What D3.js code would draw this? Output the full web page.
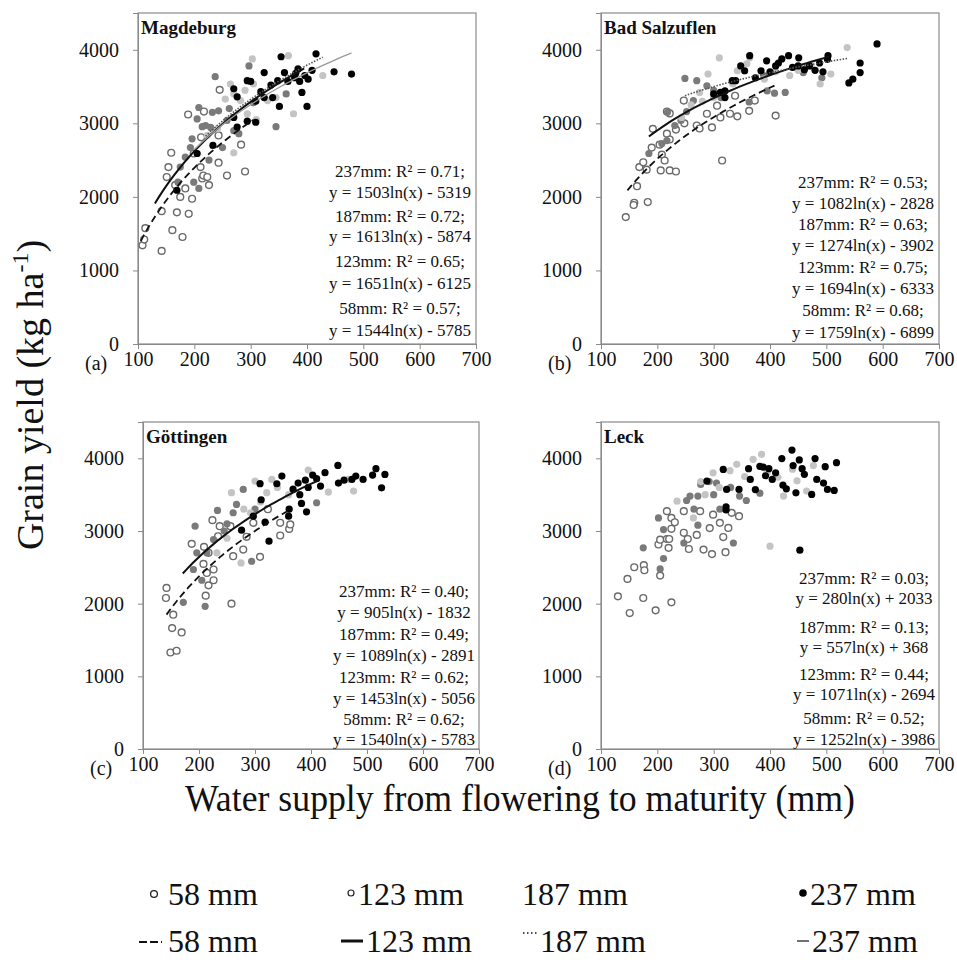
<!DOCTYPE html>
<html>
<head>
<meta charset="utf-8">
<script src="https://cdn.jsdelivr.net/npm/d3@7/dist/d3.min.js"></script>
<style>
    body { margin: 0; background: #fff; }
    svg text { font-family: "Liberation Serif", "Times New Roman", serif; fill: #111; }
</style>
</head>
<body>
<div id="chart"></div>
<script>
// ---- data (water supply mm, grain yield kg/ha) ----
const panelNames = ["Magdeburg", "Bad Salzuflen", "Göttingen", "Leck"];
const panelTags = ["(a)", "(b)", "(c)", "(d)"];
const seriesKeys = ["58", "123", "187", "237"];
const xTicks = [100, 200, 300, 400, 500, 600, 700];
const yTicks = [0, 1000, 2000, 3000, 4000];

const mag58 = [[108,1342],[111,1420],[113,1575],[142,1266],[142,1806],[161,1548],[169,1790],[179,1455],[190,1770],[159,2600],[154,2405],[151,2270],[166,2160],[175,2000],[184,2115],[196,1975],[211,2405],[214,2250],[226,2160],[216,2290],[223,2270],[243,2465],[258,2290],[283,2710],[290,2345],[189,3120],[212,2810],[217,3160],[245,3455],[243,2835],[199,2590]];
const mag123 = [[237,3635],[208,3215],[205,3060],[214,2955],[196,2790],[193,2670],[184,2540],[175,2405],[171,2200],[199,2200],[208,2115],[232,3150],[243,3170],[258,3040],[250,2670],[270,2900],[297,3780],[279,2860],[345,2955],[363,3400],[229,2945],[220,2970],[305,3280],[226,2500],[262,3200]];
const mag187 = [[303,3875],[367,3920],[428,3650],[376,3130],[264,3535],[270,3400],[255,3330],[282,3310],[241,2925],[305,3535],[294,3130],[310,3050],[330,3310],[345,3350],[223,2835],[270,2600],[290,3450],[320,3400]];
const mag237 = [[354,3905],[416,3945],[448,3700],[479,3670],[400,3230],[391,3420],[351,3230],[324,3350],[309,3015],[294,3580],[300,3570],[324,3690],[348,3580],[360,3690],[384,3740],[378,3620],[396,3650],[409,3720],[270,3470],[276,3360],[270,3080],[276,2950],[294,3030],[309,3300],[318,3430],[336,3520],[339,3350],[233,2700],[205,2590],[169,2090],[366,3570],[387,3570],[402,3600],[380,3680]];

const bad58 = [[144,1725],[159,1920],[158,1890],[183,1930],[164,2145],[168,2405],[175,2470],[181,2370],[192,2925],[190,2670],[204,2710],[208,2575],[213,2495],[206,2360],[222,2360],[233,2345],[217,2860],[222,2780],[233,2915],[217,3160],[222,3135],[247,3310],[248,3000],[270,2970],[275,2930],[288,3130],[297,2945],[306,3240],[312,3080],[315,2495],[329,3130],[342,3095],[338,3375],[363,3170],[373,3310],[410,3105]];
const bad123 = [[249,3610],[270,3580],[185,2590],[218,3150],[288,3510],[300,3450],[313,3350],[363,3290],[395,3440],[408,3410],[427,3420],[492,3620],[264,3310],[252,3160],[242,3040],[231,2970],[217,2765],[389,3650],[459,3690],[208,2725]];
const bad187 = [[310,3890],[290,3670],[537,4030],[489,3535],[508,3670],[473,3780],[435,3650],[359,3810],[342,3715],[275,3420],[243,3080],[334,3535],[364,3890],[280,3300],[300,3350],[260,3250],[410,3700],[450,3720],[390,3600]];
const bad237 = [[590,4080],[560,3820],[560,3690],[547,3600],[540,3550],[503,3920],[502,3870],[488,3820],[470,3780],[461,3730],[450,3780],[451,3890],[433,3920],[421,3875],[410,3780],[394,3850],[384,3715],[374,3620],[364,3920],[355,3715],[348,3780],[339,3580],[320,3440],[312,3420],[320,3350],[333,3580],[494,3700],[300,3400],[400,3700],[415,3820],[480,3720],[440,3760]];

const got58 = [[142,2216],[141,2078],[154,1848],[152,1664],[169,1604],[149,1328],[160,1352],[187,2823],[209,2782],[208,2547],[217,2700],[214,2423],[217,2252],[212,2110],[226,2322],[224,3149],[237,3066],[234,2928],[226,2470],[258,2000],[261,2653],[279,2745],[285,2920],[297,3113],[309,2644],[323,3300],[345,2938],[345,3113],[361,3029],[363,3090],[256,3066]];
const got123 = [[193,3066],[196,2699],[205,2322],[211,1963],[172,2018],[233,3283],[226,2883],[261,3251],[279,3572],[267,3366],[294,2584],[410,3389],[214,2700],[190,2470],[245,3000],[300,3300],[250,3100]];
const got187 = [[258,3527],[275,2561],[300,3687],[330,3710],[431,3535],[476,3549],[467,3710],[395,3839],[292,3250],[321,3527],[232,2700],[310,3400],[340,3600],[280,3300],[360,3500],[250,2900]];
const got237 = [[448,3903],[516,3857],[532,3779],[526,3594],[510,3770],[493,3710],[480,3756],[473,3710],[459,3700],[449,3660],[425,3803],[417,3618],[403,3770],[392,3264],[383,3380],[368,3575],[348,3756],[339,3650],[309,3651],[311,3430],[318,3122],[325,2860],[297,3204],[276,3011],[360,3204],[361,3300],[377,3660],[380,3500],[390,3700],[410,3720],[395,3600]];

const leck58 = [[130,2101],[151,1871],[147,2341],[159,2501],[175,2078],[176,2530],[177,2460],[197,1908],[225,2018],[205,2386],[202,2814],[205,2880],[217,2890],[221,2890],[217,3273],[220,2768],[225,3180],[231,3120],[225,3030],[247,2975],[247,3273],[254,2890],[256,2752],[270,2946],[276,3273],[282,2744],[293,3040],[297,2682],[299,3225],[311,3112],[317,2917],[321,2708],[326,3042],[332,3250],[345,3204]];
const leck123 = [[175,2768],[202,3180],[211,3020],[205,2478],[211,2620],[258,3480],[252,3420],[272,3480],[277,3640],[292,3680],[305,3660],[335,2835],[330,3600],[311,3300],[346,3480],[358,3420],[382,3520],[272,3080],[247,2835],[265,3300],[300,3500]];
const leck187 = [[235,3411],[400,2791],[277,3680],[299,3800],[329,3830],[341,3917],[370,3986],[385,4055],[414,3740],[424,3480],[448,3690],[465,3549],[477,3900],[264,3180],[310,3600],[355,3750],[395,3800],[440,3850],[285,3500]];
const leck237 = [[288,3687],[317,3848],[323,3572],[322,3334],[322,3290],[345,3572],[362,3858],[365,3710],[374,3570],[382,3890],[388,3880],[398,3858],[404,3710],[421,3996],[423,3630],[429,3580],[439,4114],[441,3900],[446,3526],[452,3978],[457,3858],[461,3780],[480,3996],[483,3710],[495,3660],[498,3885],[502,3572],[514,3558],[518,3940],[474,3503],[453,2736],[410,3800],[392,3760]];

// log trend lines as drawn: y = a*ln(x) + b, over [x0, x1]
const magFits = [{s: "58", a: 1544, b: -5785, x0: 105, x1: 305}, {s: "123", a: 1651, b: -6125, x0: 130, x1: 395},
                 {s: "187", a: 1613, b: -5874, x0: 220, x1: 428}, {s: "237", a: 1503, b: -5319, x0: 200, x1: 479}];
const badFits = [{s: "58", a: 1395, b: -4873, x0: 147, x1: 408}, {s: "123", a: 1082, b: -2828, x0: 185, x1: 505},
                 {s: "187", a: 658, b: -254, x0: 249, x1: 537}];
const gotFits = [{s: "58", a: 1540, b: -5783, x0: 142, x1: 365}, {s: "123", a: 1453, b: -5056, x0: 171, x1: 415}];
const leckFits = [];

const magEq = ["237mm: R² = 0.71;", "y = 1503ln(x) - 5319", "187mm: R² = 0.72;", "y = 1613ln(x) - 5874",
               "123mm: R² = 0.65;", "y = 1651ln(x) - 6125", "58mm: R² = 0.57;", "y = 1544ln(x) - 5785"];
const badEq = ["237mm: R² = 0.53;", "y = 1082ln(x) - 2828", "187mm: R² = 0.63;", "y = 1274ln(x) - 3902",
               "123mm: R² = 0.75;", "y = 1694ln(x) - 6333", "58mm: R² = 0.68;", "y = 1759ln(x) - 6899"];
const gotEq = ["237mm: R² = 0.40;", "y = 905ln(x) - 1832", "187mm: R² = 0.49;", "y = 1089ln(x) - 2891",
               "123mm: R² = 0.62;", "y = 1453ln(x) - 5056", "58mm: R² = 0.62;", "y = 1540ln(x) - 5783"];
const leckEq = ["237mm: R² = 0.03;", "y = 280ln(x) + 2033", "187mm: R² = 0.13;", "y = 557ln(x) + 368",
                "123mm: R² = 0.44;", "y = 1071ln(x) - 2694", "58mm: R² = 0.52;", "y = 1252ln(x) - 3986"];

const legendLabels = ["58 mm", "123 mm", "187 mm", "237 mm"];

// ---- layout ----
const W = 957, H = 962;
const svg = d3.select("#chart").append("svg").attr("width", W).attr("height", H);

const panels = [
    {name: panelNames[0], tag: panelTags[0], pts: [mag58, mag123, mag187, mag237], fits: magFits, eq: magEq,
     box: {l: 138, r: 476, t: 13, b: 344}, eqX: 400, eqY: [177, 198, 222, 242, 267, 289, 314, 336]},
    {name: panelNames[1], tag: panelTags[1], pts: [bad58, bad123, bad187, bad237], fits: badFits, eq: badEq,
     box: {l: 601, r: 939, t: 13, b: 344}, eqX: 863, eqY: [188, 209, 230, 251, 273, 294, 316, 338]},
    {name: panelNames[2], tag: panelTags[2], pts: [got58, got123, got187, got237], fits: gotFits, eq: gotEq,
     box: {l: 143, r: 479, t: 422, b: 749}, eqX: 404, eqY: [597, 618, 640, 661, 683, 704, 725, 745]},
    {name: panelNames[3], tag: panelTags[3], pts: [leck58, leck123, leck187, leck237], fits: leckFits, eq: leckEq,
     box: {l: 601, r: 939, t: 422, b: 749}, eqX: 864, eqY: [584, 604, 633, 653, 680, 700, 724, 745]}
];

// marker + line styling per series
const markStyle = {
    "58":  {fill: "#fff", stroke: "#6a6a6a", sw: 1.4, r: 3.4},
    "123": {fill: "#7a7a7a", stroke: "none", sw: 0, r: 3.6},
    "187": {fill: "#c4c4c4", stroke: "none", sw: 0, r: 3.6},
    "237": {fill: "#000", stroke: "none", sw: 0, r: 3.6}
};
const lineStyle = {
    "58":  {stroke: "#111", sw: 1.8, dash: "7,4"},
    "123": {stroke: "#111", sw: 2.0, dash: null},
    "187": {stroke: "#555", sw: 1.6, dash: "1.5,1.5"},
    "237": {stroke: "#999", sw: 1.3, dash: null}
};

panels.forEach(p => {
    let bx = p.box;
    let x = d3.scaleLinear().domain([100, 700]).range([bx.l, bx.r]);
    let y = d3.scaleLinear().domain([0, 4500]).range([bx.b, bx.t]);
    let g = svg.append("g");

    // axes
    g.append("g").attr("transform", `translate(0,${bx.b})`)
        .call(d3.axisBottom(x).tickValues(xTicks).tickSize(5).tickPadding(3).tickFormat(d3.format("d")))
        .call(a => a.select(".domain").attr("stroke", "#8a8a8a"))
        .call(a => a.selectAll("line").attr("stroke", "#8a8a8a"))
        .call(a => a.selectAll("text").attr("font-size", 20).attr("fill", "#111"));
    g.append("g").attr("transform", `translate(${bx.l},0)`)
        .call(d3.axisLeft(y).tickValues(yTicks).tickSize(5).tickPadding(14).tickFormat(d3.format("d")))
        .call(a => a.select(".domain").attr("stroke", "#8a8a8a"))
        .call(a => a.selectAll("line").attr("stroke", "#8a8a8a"))
        .call(a => a.selectAll("text").attr("font-size", 20).attr("fill", "#111"));

    // plot frame
    g.append("rect").attr("x", bx.l).attr("y", bx.t)
        .attr("width", bx.r - bx.l).attr("height", bx.b - bx.t)
        .attr("fill", "none").attr("stroke", "#8a8a8a").attr("stroke-width", 1.2);

    // points
    seriesKeys.forEach((k, i) => {
        let st = markStyle[k];
        g.append("g").selectAll("circle")
            .data(p.pts[i])
            .enter().append("circle")
            .attr("cx", d => x(d[0]))
            .attr("cy", d => y(d[1]))
            .attr("r", st.r)
            .attr("fill", st.fill)
            .attr("stroke", st.stroke)
            .attr("stroke-width", st.sw);
    });

    // trend lines
    let line = d3.line().x(d => x(d[0])).y(d => y(d[1]));
    p.fits.forEach(f => {
        let st = lineStyle[f.s];
        let xs = d3.range(0, 41).map(i => f.x0 + (f.x1 - f.x0) * i / 40);
        g.append("path")
            .datum(xs.map(v => [v, f.a * Math.log(v) + f.b]))
            .attr("d", line)
            .attr("fill", "none")
            .attr("stroke", st.stroke)
            .attr("stroke-width", st.sw)
            .attr("stroke-dasharray", st.dash);
    });

    // site name and panel tag
    g.append("text").attr("x", bx.l + 3).attr("y", bx.t + 21)
        .attr("font-size", 19).attr("font-weight", "bold").text(p.name);
    g.append("text").attr("x", bx.l - 53).attr("y", bx.b + 26)
        .attr("font-size", 20).text(p.tag);

    // regression equations
    g.selectAll(".eq")
        .data(p.eq)
        .enter().append("text")
        .attr("class", "eq")
        .attr("x", p.eqX)
        .attr("y", (d, i) => p.eqY[i])
        .attr("text-anchor", "middle")
        .attr("font-size", 17)
        .text(d => d);
});

// axis titles
svg.append("text")
    .attr("transform", "translate(43,395) rotate(-90)")
    .attr("text-anchor", "middle")
    .attr("font-size", 38)
    .call(t => {
        t.append("tspan").text("Grain yield (kg ha");
        t.append("tspan").attr("font-size", 24).attr("dy", -15).text("-1");
        t.append("tspan").attr("dy", 15).text(")");
    });

svg.append("text")
    .attr("x", 185).attr("y", 811)
    .attr("font-size", 37)
    .attr("textLength", 670)
    .attr("lengthAdjust", "spacingAndGlyphs")
    .text("Water supply  from flowering to maturity (mm)");

// legend
const legRow1 = [168, 358, 522, 810];
const legRow2 = [168, 366, 540, 812];
const lg = svg.append("g");

[[legRow1, 905], [legRow2, 952]].forEach(([xs, yb]) => {
    lg.append("g").selectAll("text")
        .data(legendLabels)
        .enter().append("text")
        .attr("x", (d, i) => xs[i]).attr("y", yb)
        .attr("font-size", 32)
        .text(d => d);
});

// marker glyphs in front of row 1
lg.append("circle").attr("cx", 154).attr("cy", 894).attr("r", 3.4).attr("fill", "#fff").attr("stroke", "#222").attr("stroke-width", 1.3);
lg.append("circle").attr("cx", 351).attr("cy", 893).attr("r", 3.0).attr("fill", "#fff").attr("stroke", "#222").attr("stroke-width", 1.2);
lg.append("circle").attr("cx", 803).attr("cy", 893).attr("r", 3.8).attr("fill", "#000");

// line glyphs in front of row 2
lg.append("line").attr("x1", 139).attr("x2", 162).attr("y1", 942).attr("y2", 942)
    .attr("stroke", "#111").attr("stroke-width", 2).attr("stroke-dasharray", "8,3");
lg.append("line").attr("x1", 341).attr("x2", 363).attr("y1", 941).attr("y2", 941)
    .attr("stroke", "#111").attr("stroke-width", 3);
lg.append("line").attr("x1", 523).attr("x2", 539).attr("y1", 933).attr("y2", 933)
    .attr("stroke", "#111").attr("stroke-width", 1.5).attr("stroke-dasharray", "1.5,2.5");
lg.append("line").attr("x1", 797).attr("x2", 809).attr("y1", 941).attr("y2", 941)
    .attr("stroke", "#111").attr("stroke-width", 1.2);
</script>
</body>
</html>
